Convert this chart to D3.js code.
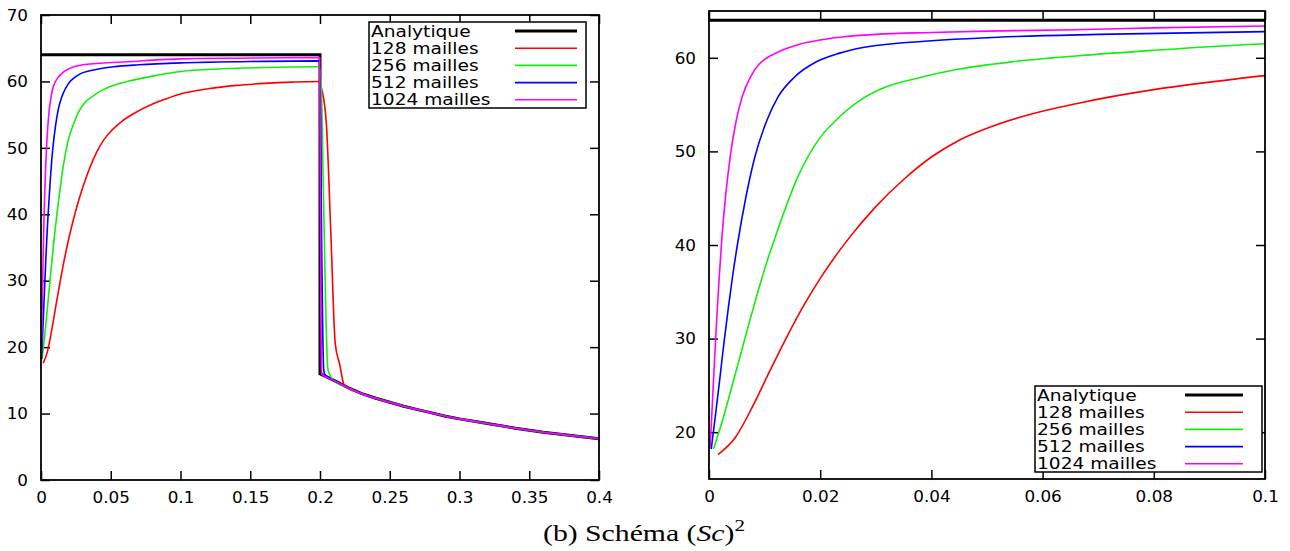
<!DOCTYPE html>
<html><head><meta charset="utf-8">
<script src="https://cdn.jsdelivr.net/npm/d3@7"></script>
<style>
html,body{margin:0;padding:0;background:#fff;}
svg text{font-family:"DejaVu Sans",sans-serif;}
</style></head>
<body><svg id="c" width="1290" height="551"></svg>
<script>
// ---------- data ----------
const seriesNames = ["Analytique","128 mailles","256 mailles","512 mailles","1024 mailles"];
const seriesColors = ["#000000","#ff0000","#11ee11","#0000ff","#ff00ff"];

// common decaying tail (x > 0.2)
const tailX = [0.22,0.23,0.24,0.25,0.26,0.27,0.28,0.29,0.30,0.32,0.34,0.36,0.38,0.40];
const tailY = [13.9,13.0,12.3,11.7,11.1,10.6,10.1,9.6,9.2,8.5,7.8,7.2,6.7,6.2];

const anaX = [0,0.2,0.2,0.21];
const anaY = [64,64,16,15.0];

const x128 = [0.0016,0.0047,0.0078,0.0109,0.0141,0.0172,0.0203,0.025,0.03,0.035,0.04,0.045,0.051,0.058,0.066,0.08,0.09,0.1,0.12,0.14,0.16,0.18,0.1984,0.2016,0.2047,0.2078,0.2109,0.2141,0.2172];
const y128 = [17.6,19.4,22.7,26.5,30.3,33.7,36.7,40.6,44.1,47.0,49.4,51.2,52.7,54.0,55.1,56.6,57.4,58.1,58.9,59.4,59.7,59.9,60.0,58.5,53.2,37.0,20.6,17.4,14.4];

const x256 = [0.0008,0.0023,0.0039,0.0055,0.007,0.0086,0.0102,0.012,0.016,0.02,0.0228,0.027,0.031,0.038,0.045,0.055,0.066,0.08,0.1,0.13,0.16,0.1992,0.2008,0.2023,0.2039,0.2055,0.207,0.21];
const y256 = [18.2,21.0,24.4,27.9,31.2,34.6,37.8,41.0,47.3,51.5,53.3,55.4,56.7,57.9,58.8,59.6,60.2,60.8,61.5,61.9,62.1,62.2,60.0,45.0,28.0,17.0,15.8,15.0];

const x512 = [0.0004,0.0012,0.002,0.0027,0.0035,0.0043,0.0051,0.0066,0.0082,0.0104,0.0125,0.0153,0.0194,0.0235,0.0277,0.035,0.042,0.052,0.07,0.1,0.15,0.1996,0.2004,0.2012,0.202,0.2027,0.2035,0.21];
const y512 = [18.2,22.0,26.0,29.6,33.4,36.9,40.0,45.0,49.3,53.3,55.9,57.9,59.6,60.5,61.1,61.6,61.9,62.2,62.5,62.8,63.0,63.1,55.0,35.0,22.0,16.5,15.9,15.0];

const x1024 = [0.0002,0.0006,0.001,0.0014,0.0018,0.0023,0.003,0.0039,0.0049,0.006,0.0075,0.009,0.011,0.0131,0.016,0.02,0.0243,0.03,0.04,0.05,0.066,0.08,0.1,0.14,0.1998,0.2002,0.2006,0.201,0.2014,0.21];
const y1024 = [18.3,23.0,27.8,32.2,36.2,40.6,45.3,49.8,53.3,55.9,58.0,59.3,60.2,60.8,61.4,61.9,62.25,62.5,62.7,62.85,63.0,63.2,63.4,63.5,63.6,45.0,25.0,17.0,15.9,15.0];

const leftXTicks = [0,0.05,0.1,0.15,0.2,0.25,0.3,0.35,0.4];
const leftXLabels = ["0","0.05","0.1","0.15","0.2","0.25","0.3","0.35","0.4"];
const leftYTicks = [0,10,20,30,40,50,60,70];
const rightXTicks = [0,0.02,0.04,0.06,0.08,0.1];
const rightXLabels = ["0","0.02","0.04","0.06","0.08","0.1"];
const rightYTicks = [20,30,40,50,60];
const caption = ["(b) Schéma (", "Sc", ")", "2"];

// ---------- build ----------
const svg = d3.select("#c");
const numeric = [
  {x:x128,y:y128},{x:x256,y:y256},{x:x512,y:y512},{x:x1024,y:y1024}
];
function pts(xa,ya,tail){
  const p = xa.map((v,i)=>[v,ya[i]]);
  if(tail) tailX.forEach((v,i)=>p.push([v,tailY[i]]));
  return p;
}
function stretch(sel,f){
  sel.each(function(){
    const w = this.getComputedTextLength();
    d3.select(this).attr("textLength",w*f).attr("lengthAdjust","spacingAndGlyphs");
  });
}

function panel(opt){
  const g = svg.append("g");
  const x = d3.scaleLinear().domain(opt.xd).range([opt.x0,opt.x1]);
  const y = d3.scaleLinear().domain(opt.yd).range([opt.y0,opt.y1]);
  const id = "clip"+opt.name;
  svg.append("clipPath").attr("id",id).append("rect")
    .attr("x",opt.x0-3).attr("y",opt.y1).attr("width",opt.x1-opt.x0+3).attr("height",opt.y0-opt.y1);
  const tl = 9;
  const ax = d3.axisBottom(x).tickValues(opt.xt).tickFormat((d,i)=>opt.xl[i]).tickSizeInner(-tl).tickSizeOuter(0).tickPadding(tl+3);
  const gx = g.append("g").attr("transform",`translate(0,${opt.y0})`).call(ax);
  const axT = d3.axisTop(x).tickValues(opt.xt).tickFormat("").tickSizeInner(-tl).tickSizeOuter(0);
  const gxt = g.append("g").attr("transform",`translate(0,${opt.y1})`).call(axT);
  const ay = d3.axisLeft(y).tickValues(opt.yt).tickFormat(d=>String(d)).tickSizeInner(-tl).tickSizeOuter(0).tickPadding(13);
  const gy = g.append("g").attr("transform",`translate(${opt.x0},0)`).call(ay);
  const ayR = d3.axisRight(y).tickValues(opt.yt).tickFormat("").tickSizeInner(-tl).tickSizeOuter(0);
  const gyr = g.append("g").attr("transform",`translate(${opt.x1},0)`).call(ayR);
  [gx,gxt,gy,gyr].forEach(a=>{
    a.select(".domain").remove();
    a.selectAll("line").attr("stroke","#000").attr("stroke-width",1.5);
    a.selectAll("text").attr("fill","#000").attr("font-size",15).attr("font-family","DejaVu Sans");
  });
  gy.selectAll("text").attr("dy","0.35em");
  stretch(gx.selectAll("text"),1.12);
  stretch(gy.selectAll("text"),1.12);
  // lines
  const lg = g.append("g").attr("clip-path",`url(#${id})`);
  const linLine = d3.line().x(d=>x(d[0])).y(d=>y(d[1]));
  const smLine = d3.line().x(d=>x(d[0])).y(d=>y(d[1])).curve(d3.curveMonotoneX);
  lg.append("path").attr("d",linLine(pts(anaX,anaY,true))).attr("fill","none")
    .attr("stroke",seriesColors[0]).attr("stroke-width",3);
  numeric.forEach((s,i)=>{
    lg.append("path").attr("d",smLine(pts(s.x,s.y,true))).attr("fill","none")
      .attr("stroke",seriesColors[i+1]).attr("stroke-width",1.6).attr("stroke-linejoin","round");
  });
  // frame
  g.append("rect").attr("x",opt.x0).attr("y",opt.y1).attr("width",opt.x1-opt.x0).attr("height",opt.y0-opt.y1)
    .attr("fill","none").attr("stroke","#000").attr("stroke-width",1.8);
  // legend
  const L = opt.leg;
  const lgd = g.append("g");
  lgd.append("rect").attr("x",L.x).attr("y",L.y).attr("width",L.w).attr("height",L.h)
    .attr("fill","#fff").attr("stroke","#000").attr("stroke-width",1.5);
  seriesNames.forEach((n,i)=>{
    const cy = L.y + 9 + i*17.2;
    const t = lgd.append("text").attr("x",L.x+2).attr("y",cy).attr("dy","0.36em").attr("font-size",15.5)
      .text(n).attr("fill","#000");
    stretch(t,1.2);
    lgd.append("line").attr("x1",L.sx0).attr("x2",L.sx1).attr("y1",cy).attr("y2",cy)
      .attr("stroke",seriesColors[i]).attr("stroke-width",i===0?3:1.6);
  });
}

panel({name:"L",xd:[0,0.4],yd:[0,70],x0:41,x1:599,y0:480,y1:15,xt:leftXTicks,xl:leftXLabels,yt:leftYTicks,
  leg:{x:369,y:22,w:217,h:86,sx0:515,sx1:577}});
panel({name:"R",xd:[0,0.1],yd:[15,65],x0:709,x1:1265,y0:479,y1:11,xt:rightXTicks,xl:rightXLabels,yt:rightYTicks,
  leg:{x:1035,y:386,w:227,h:86,sx0:1185,sx1:1243}});

// caption
const capG = svg.append("g");
const cap = capG.append("text").attr("x",0).attr("y",0).attr("text-anchor","start")
  .style("font-family","'Liberation Serif',serif").attr("font-size",24);
cap.append("tspan").text(caption[0]);
cap.append("tspan").attr("font-style","italic").text(caption[1]);
cap.append("tspan").text(caption[2]);
cap.append("tspan").attr("dy",-10).attr("font-size",17).text(caption[3]);
const bb = cap.node().getBBox();
const sx = 202/bb.width;
capG.attr("transform",`translate(543,541) scale(${sx},1)`);
</script></body></html>
